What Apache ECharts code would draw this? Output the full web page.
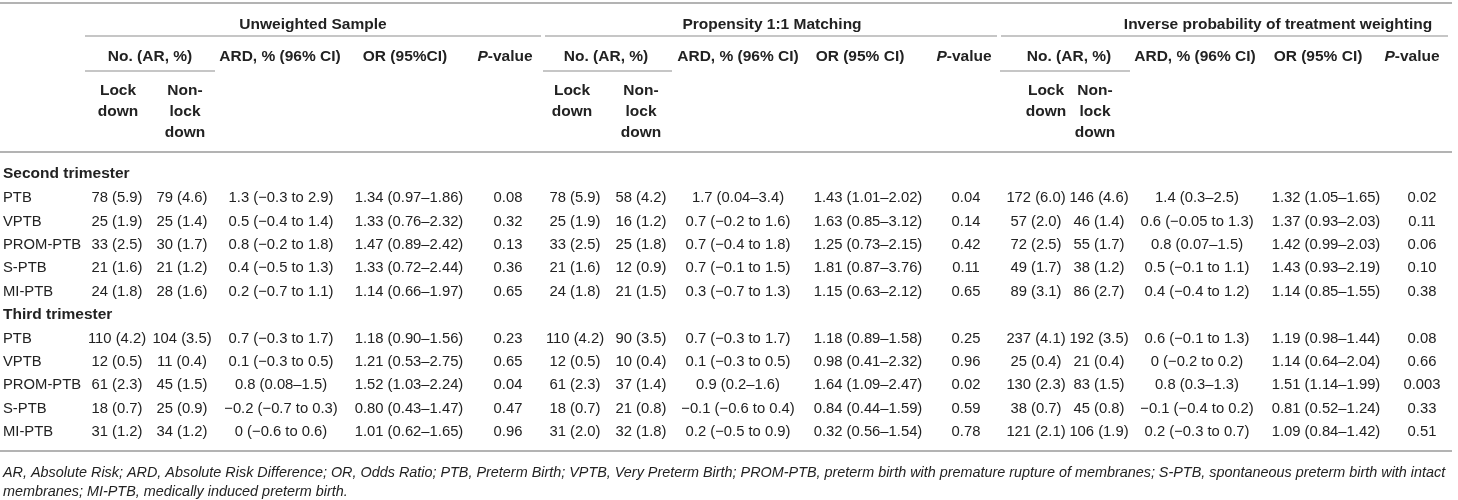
<!DOCTYPE html>
<html>
<head>
<meta charset="utf-8">
<script src="https://cdn.jsdelivr.net/npm/echarts@6/dist/echarts.min.js"></script>
<style>html,body{margin:0;padding:0;background:#fff}#c{width:1458px;height:500px}</style>
</head>
<body>
<div id="c"></div>
<script>
// ---------- DATA ----------
const groups = ['Unweighted Sample', 'Propensity 1:1 Matching', 'Inverse probability of treatment weighting'];
const subHeads = [
  ['No. (AR, %)', 'ARD, % (96% CI)', 'OR (95%CI)', '{i|P}-value'],
  ['No. (AR, %)', 'ARD, % (96% CI)', 'OR (95% CI)', '{i|P}-value'],
  ['No. (AR, %)', 'ARD, % (96% CI)', 'OR (95% CI)', '{i|P}-value']
];
const armHeads = ['Lock\ndown', 'Non-\nlock\ndown'];
const sections = ['Second trimester', 'Third trimester'];
const outcomes = ['PTB', 'VPTB', 'PROM-PTB', 'S-PTB', 'MI-PTB'];

// columns: lockdown, non-lockdown, ARD, OR, P
const unweighted2nd = [
  ['78 (5.9)', '79 (4.6)', '1.3 (\u22120.3 to 2.9)', '1.34 (0.97\u20131.86)', '0.08'],
  ['25 (1.9)', '25 (1.4)', '0.5 (\u22120.4 to 1.4)', '1.33 (0.76\u20132.32)', '0.32'],
  ['33 (2.5)', '30 (1.7)', '0.8 (\u22120.2 to 1.8)', '1.47 (0.89\u20132.42)', '0.13'],
  ['21 (1.6)', '21 (1.2)', '0.4 (\u22120.5 to 1.3)', '1.33 (0.72\u20132.44)', '0.36'],
  ['24 (1.8)', '28 (1.6)', '0.2 (\u22120.7 to 1.1)', '1.14 (0.66\u20131.97)', '0.65']
];
const matching2nd = [
  ['78 (5.9)', '58 (4.2)', '1.7 (0.04\u20133.4)', '1.43 (1.01\u20132.02)', '0.04'],
  ['25 (1.9)', '16 (1.2)', '0.7 (\u22120.2 to 1.6)', '1.63 (0.85\u20133.12)', '0.14'],
  ['33 (2.5)', '25 (1.8)', '0.7 (\u22120.4 to 1.8)', '1.25 (0.73\u20132.15)', '0.42'],
  ['21 (1.6)', '12 (0.9)', '0.7 (\u22120.1 to 1.5)', '1.81 (0.87\u20133.76)', '0.11'],
  ['24 (1.8)', '21 (1.5)', '0.3 (\u22120.7 to 1.3)', '1.15 (0.63\u20132.12)', '0.65']
];
const iptw2nd = [
  ['172 (6.0)', '146 (4.6)', '1.4 (0.3\u20132.5)', '1.32 (1.05\u20131.65)', '0.02'],
  ['57 (2.0)', '46 (1.4)', '0.6 (\u22120.05 to 1.3)', '1.37 (0.93\u20132.03)', '0.11'],
  ['72 (2.5)', '55 (1.7)', '0.8 (0.07\u20131.5)', '1.42 (0.99\u20132.03)', '0.06'],
  ['49 (1.7)', '38 (1.2)', '0.5 (\u22120.1 to 1.1)', '1.43 (0.93\u20132.19)', '0.10'],
  ['89 (3.1)', '86 (2.7)', '0.4 (\u22120.4 to 1.2)', '1.14 (0.85\u20131.55)', '0.38']
];
const unweighted3rd = [
  ['110 (4.2)', '104 (3.5)', '0.7 (\u22120.3 to 1.7)', '1.18 (0.90\u20131.56)', '0.23'],
  ['12 (0.5)', '11 (0.4)', '0.1 (\u22120.3 to 0.5)', '1.21 (0.53\u20132.75)', '0.65'],
  ['61 (2.3)', '45 (1.5)', '0.8 (0.08\u20131.5)', '1.52 (1.03\u20132.24)', '0.04'],
  ['18 (0.7)', '25 (0.9)', '\u22120.2 (\u22120.7 to 0.3)', '0.80 (0.43\u20131.47)', '0.47'],
  ['31 (1.2)', '34 (1.2)', '0 (\u22120.6 to 0.6)', '1.01 (0.62\u20131.65)', '0.96']
];
const matching3rd = [
  ['110 (4.2)', '90 (3.5)', '0.7 (\u22120.3 to 1.7)', '1.18 (0.89\u20131.58)', '0.25'],
  ['12 (0.5)', '10 (0.4)', '0.1 (\u22120.3 to 0.5)', '0.98 (0.41\u20132.32)', '0.96'],
  ['61 (2.3)', '37 (1.4)', '0.9 (0.2\u20131.6)', '1.64 (1.09\u20132.47)', '0.02'],
  ['18 (0.7)', '21 (0.8)', '\u22120.1 (\u22120.6 to 0.4)', '0.84 (0.44\u20131.59)', '0.59'],
  ['31 (2.0)', '32 (1.8)', '0.2 (\u22120.5 to 0.9)', '0.32 (0.56\u20131.54)', '0.78']
];
const iptw3rd = [
  ['237 (4.1)', '192 (3.5)', '0.6 (\u22120.1 to 1.3)', '1.19 (0.98\u20131.44)', '0.08'],
  ['25 (0.4)', '21 (0.4)', '0 (\u22120.2 to 0.2)', '1.14 (0.64\u20132.04)', '0.66'],
  ['130 (2.3)', '83 (1.5)', '0.8 (0.3\u20131.3)', '1.51 (1.14\u20131.99)', '0.003'],
  ['38 (0.7)', '45 (0.8)', '\u22120.1 (\u22120.4 to 0.2)', '0.81 (0.52\u20131.24)', '0.33'],
  ['121 (2.1)', '106 (1.9)', '0.2 (\u22120.3 to 0.7)', '1.09 (0.84\u20131.42)', '0.51']
];
const footnotes = [
  'AR, Absolute Risk; ARD, Absolute Risk Difference; OR, Odds Ratio; PTB, Preterm Birth; VPTB, Very Preterm Birth; PROM-PTB, preterm birth with premature rupture of membranes; S-PTB, spontaneous preterm birth with intact',
  'membranes; MI-PTB, medically induced preterm birth.'
];

// ---------- LAYOUT (pixel space of a 1458x500 value grid) ----------
const W = 1458, H = 500;
const bodyX = [[117, 182, 281, 409, 508], [575, 641, 738, 868, 966], [1036, 1099, 1197, 1326, 1422]];
const headNoX = [150, 606, 1069];
const headArmX = [[118, 185], [572, 641], [1046, 1095]];
const headColX = [[280, 405, 505], [738, 860, 964], [1195, 1318, 1412]];
const groupTitleX = [313, 772, 1278];
const groupLines = [[85, 541], [545, 997], [1001, 1448]];
const noLines = [[85, 215], [543, 672], [1000, 1130]];
const yTitle = 25, yGroupLine = 36, ySub = 57, ySubLine = 71, yArmTop = 80, yHeadBottom = 152, yTop = 3;
const ySection = [174, 315], yFirstRow = [198, 338.5], rowStep = 23.45;
const yBottom = 451, yFoot = [473, 492];
const labelX = 3;

const FONT = "'Liberation Sans', Arial, Helvetica, sans-serif";
const TEXT = '#222222';
const LINE = '#b3b3b3';

const tableData = [[unweighted2nd, matching2nd, iptw2nd], [unweighted3rd, matching3rd, iptw3rd]];

// ---------- build cells ----------
const cells = [];
function cell(x, y, t, o) { cells.push(Object.assign({x: x, y: y, t: t, size: 14.8, weight: 'normal', style: 'normal', align: 'center', va: 'middle', lh: 21}, o || {})); }

groups.forEach((g, gi) => {
  cell(groupTitleX[gi], yTitle, g, {weight: 'bold', size: 15.5});
  cell(headNoX[gi], ySub, subHeads[gi][0], {weight: 'bold', size: 15.5});
  for (let k = 1; k < 4; k++) cell(headColX[gi][k - 1], ySub, subHeads[gi][k], {weight: 'bold', size: 15.5});
  armHeads.forEach((a, ai) => cell(headArmX[gi][ai], yArmTop, a, {weight: 'bold', size: 15.5, va: 'top'}));
});
sections.forEach((s, si) => {
  cell(labelX, ySection[si], s, {weight: 'bold', size: 15.5, align: 'left'});
  outcomes.forEach((o, ri) => {
    const y = yFirstRow[si] + ri * rowStep;
    cell(labelX, y, o, {align: 'left'});
    tableData[si].forEach((grp, gi) => {
      grp[ri].forEach((v, ci) => cell(bodyX[gi][ci], y, v));
    });
  });
});
footnotes.forEach((f, i) => cell(labelX, yFoot[i], f, {style: 'italic', size: 14.4, align: 'left'}));

const lines = [
  [0, W - 6, yTop, 2],
  [0, W - 6, yHeadBottom, 2],
  [0, W - 6, yBottom, 2]
];
groupLines.forEach(l => lines.push([l[0], l[1], yGroupLine, 1.5]));
noLines.forEach(l => lines.push([l[0], l[1], ySubLine, 1.5]));

const chart = echarts.init(document.getElementById('c'), null, {renderer: 'canvas'});
chart.setOption({
  animation: false,
  backgroundColor: '#ffffff',
  grid: {left: 0, right: 0, top: 0, bottom: 0},
  xAxis: {type: 'value', min: 0, max: W, show: false},
  yAxis: {type: 'value', min: 0, max: H, inverse: true, show: false},
  series: [
    {
      type: 'custom',
      clip: false,
      data: lines.map(l => [l[0], l[2], l[1], l[3]]),
      renderItem: function (params, api) {
        const p1 = api.coord([api.value(0), api.value(1)]);
        const p2 = api.coord([api.value(2), api.value(1)]);
        return {type: 'line', shape: {x1: p1[0], y1: p1[1], x2: p2[0], y2: p2[1]}, style: {stroke: LINE, lineWidth: api.value(3)}};
      }
    },
    {
      type: 'custom',
      clip: false,
      data: cells.map(c => [c.x, c.y]),
      renderItem: function (params, api) {
        const c = cells[params.dataIndex];
        const p = api.coord([api.value(0), api.value(1)]);
        return {
          type: 'text', x: p[0], y: p[1],
          style: {
            text: c.t, fill: TEXT, fontFamily: FONT, fontSize: c.size, fontWeight: c.weight, fontStyle: c.style,
            align: c.align, verticalAlign: c.va, lineHeight: c.lh,
            rich: {i: {fontStyle: 'italic', fontWeight: c.weight, fontSize: c.size, fontFamily: FONT, fill: TEXT}}
          }
        };
      }
    }
  ]
});
</script>
</body>
</html>
